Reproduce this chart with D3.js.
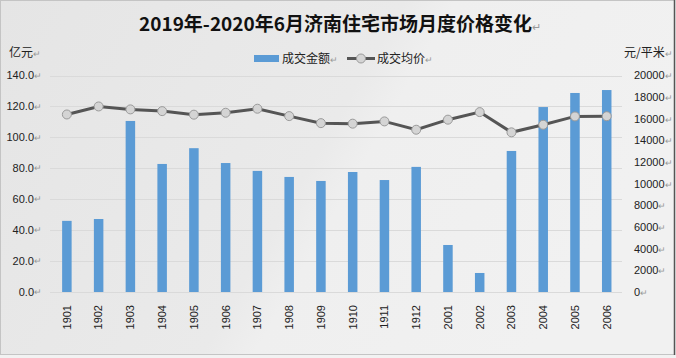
<!DOCTYPE html>
<html>
<head>
<meta charset="utf-8">
<script src="https://cdn.jsdelivr.net/npm/d3@7"></script>
<style>
  html, body { margin: 0; padding: 0; }
  svg { display: block; }
</style>
</head>
<body>
<svg id="chart" width="676" height="358"></svg>
<script>
// months, yymm
var months = ["1901","1902","1903","1904","1905","1906","1907","1908","1909","1910","1911","1912","2001","2002","2003","2004","2005","2006"];
// 成交金额, 亿元
var amount = [46, 47.2, 110.6, 82.8, 93, 83.4, 78.3, 74.4, 71.8, 77.6, 72.4, 80.9, 30.4, 12.3, 91.2, 119.6, 128.7, 130.6];
// 成交均价, 元/平米
var avgPrice = [16400, 17140, 16870, 16710, 16380, 16560, 16930, 16250, 15600, 15550, 15760, 14990, 15920, 16620, 14750, 15450, 16220, 16240];
var leftTicks = [0, 20, 40, 60, 80, 100, 120, 140];
var rightTicks = [0, 2000, 4000, 6000, 8000, 10000, 12000, 14000, 16000, 18000, 20000];

var svg = d3.select("#chart");
var W = 676, H = 358;
var cjk = "'Noto Sans CJK SC', 'Noto Sans', sans-serif";
var num = "'Liberation Sans', Arial, sans-serif";

// background
var defs = svg.append("defs");
var grad = defs.append("linearGradient").attr("id", "bg")
    .attr("x1", "0").attr("y1", "0").attr("x2", "1").attr("y2", "0.3");
grad.append("stop").attr("offset", "0").attr("stop-color", "#e5e5e5");
grad.append("stop").attr("offset", "0.55").attr("stop-color", "#eaeaea");
grad.append("stop").attr("offset", "0.62").attr("stop-color", "#efefef");
grad.append("stop").attr("offset", "1").attr("stop-color", "#f1f1f1");
svg.append("rect").attr("width", W).attr("height", H).attr("fill", "#f2f2f2");
svg.append("rect").attr("x", 0.5).attr("y", 0.5).attr("width", 674).attr("height", 354)
    .attr("fill", "url(#bg)").attr("stroke", "#c4c4c4");
svg.append("line").attr("x1", 674.5).attr("x2", 674.5).attr("y1", 0).attr("y2", 355)
    .attr("stroke", "#555").attr("stroke-width", 1.5);

var x = d3.scaleBand().domain(months).range([51, 622.6]).padding(0);
var yL = d3.scaleLinear().domain([0, 140]).range([292, 75.5]);
var yR = d3.scaleLinear().domain([0, 20000]).range([292, 75.5]);
var cx = function(d) { return x(d) + x.bandwidth() / 2; };

// gridlines
svg.append("g").selectAll("line").data(leftTicks).enter().append("line")
    .attr("x1", 50).attr("x2", 622)
    .attr("y1", function(d) { return Math.round(yL(d)) + 0.5; })
    .attr("y2", function(d) { return Math.round(yL(d)) + 0.5; })
    .attr("stroke", "#dadada").attr("stroke-width", 1);

// bars
var bw = 9.5;
svg.append("g").selectAll("rect").data(amount).enter().append("rect")
    .attr("x", function(d, i) { return cx(months[i]) - bw / 2; })
    .attr("y", function(d) { return yL(d); })
    .attr("width", bw)
    .attr("height", function(d) { return yL(0) - yL(d); })
    .attr("fill", "#5b9bd5");

// price line
var line = d3.line()
    .x(function(d, i) { return cx(months[i]); })
    .y(function(d) { return yR(d); });
svg.append("path").datum(avgPrice).attr("d", line)
    .attr("fill", "none").attr("stroke", "#555555").attr("stroke-width", 3);
svg.append("g").selectAll("circle").data(avgPrice).enter().append("circle")
    .attr("cx", function(d, i) { return cx(months[i]); })
    .attr("cy", function(d) { return yR(d); })
    .attr("r", 4.5)
    .attr("fill", "#d4d4d4").attr("stroke", "#9a9a9a").attr("stroke-width", 1);

// left axis labels
var lg = svg.append("g").selectAll("g").data(leftTicks).enter().append("g");
lg.append("text")
    .attr("x", 34).attr("y", function(d) { return yL(d); }).attr("dy", "0.35em")
    .attr("text-anchor", "end")
    .style("font-family", num).style("font-size", "11px").attr("fill", "#222")
    .text(function(d) { return d.toFixed(1); });
lg.append("text")
    .attr("x", 34).attr("y", function(d) { return yL(d); }).attr("dy", "0.35em")
    .style("font-family", num).style("font-size", "9px").attr("fill", "#999")
    .text("↵");

// right axis labels
var rg = svg.append("g").selectAll("text").data(rightTicks).enter().append("text")
    .attr("x", 634).attr("y", function(d) { return yR(d); }).attr("dy", "0.35em")
    .style("font-family", num).style("font-size", "11px").attr("fill", "#222");
rg.append("tspan").text(function(d) { return d; });
rg.append("tspan").attr("fill", "#999").style("font-size", "9px").text("↵");

// x labels
svg.append("g").selectAll("text").data(months).enter().append("text")
    .attr("transform", function(d) { return "translate(" + cx(d) + ",305) rotate(-90)"; })
    .attr("dy", "0.35em").attr("text-anchor", "end")
    .style("font-family", num).style("font-size", "11px").attr("fill", "#222")
    .text(function(d) { return d; });

// title
var title = svg.append("text").attr("x", 340).attr("y", 31).attr("text-anchor", "middle")
    .style("font-family", cjk).style("font-size", "19px").style("font-weight", "bold")
    .attr("fill", "#111");
title.append("tspan").text("2019年-2020年6月济南住宅市场月度价格变化");
title.append("tspan").attr("fill", "#999").style("font-size", "11px").style("font-weight", "normal").text("↵");

// unit labels
function label(xp, yp, s) {
    var t = svg.append("text").attr("x", xp).attr("y", yp)
        .style("font-family", cjk).style("font-size", "12px").attr("fill", "#222");
    t.append("tspan").text(s);
    t.append("tspan").attr("fill", "#999").style("font-size", "9px").text("↵");
}
label(9, 57, "亿元");
label(624, 57, "元/平米");

// legend
svg.append("rect").attr("x", 254).attr("y", 55).attr("width", 25).attr("height", 7).attr("fill", "#5b9bd5");
label(282, 63, "成交金额");
svg.append("line").attr("x1", 347).attr("x2", 375).attr("y1", 58.5).attr("y2", 58.5)
    .attr("stroke", "#555555").attr("stroke-width", 3);
svg.append("circle").attr("cx", 361).attr("cy", 58.5).attr("r", 4.5)
    .attr("fill", "#d4d4d4").attr("stroke", "#9a9a9a");
label(377, 63, "成交均价");
</script>
</body>
</html>
